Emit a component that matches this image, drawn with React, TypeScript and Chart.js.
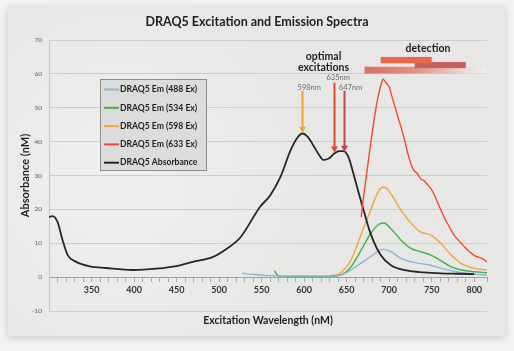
import React, { useEffect, useRef } from "react";
import { Chart, registerables } from "chart.js";

Chart.register(...registerables);

const TITLE = "DRAQ5 Excitation and Emission Spectra";
const X_TITLE = "Excitation Wavelength (nM)";
const Y_TITLE = "Absorbance (nM)";
const X_MIN = 300;
const X_MAX = 815;
const Y_MIN = -10;
const Y_MAX = 70;
const X_TICK_LABELS = [350, 400, 450, 500, 550, 600, 650, 700, 750, 800];

const SERIES_NAMES = [
  "DRAQ5 Em (488 Ex)",
  "DRAQ5 Em (534 Ex)",
  "DRAQ5 Em (598 Ex)",
  "DRAQ5 Em (633 Ex)",
  "DRAQ5 Absorbance",
];
const SERIES_COLORS = ["#8db3d8", "#3db24a", "#f4a43c", "#ef4a30", "#262626"];

const em488X = [527, 535, 545, 555, 565, 575, 590, 610, 630, 643, 655, 666, 678, 688, 694, 702, 714, 726, 737, 749, 761, 773, 785, 800, 815];
const em488Y = [1.1, 0.9, 0.7, 0.5, 0.4, 0.3, 0.3, 0.3, 0.3, 0.6, 2.1, 4.0, 6.0, 7.9, 8.2, 7.5, 5.5, 4.5, 4.0, 3.5, 2.6, 1.9, 1.3, 0.9, 0.6];

const em534X = [565, 567, 570, 580, 600, 620, 640, 648, 655, 666, 678, 688, 694, 702, 714, 726, 737, 749, 761, 773, 785, 800, 815];
const em534Y = [1.9, 1.2, 0.3, 0.2, 0.2, 0.2, 0.4, 1.3, 3.0, 7.5, 12.8, 15.6, 16.0, 14.3, 10.9, 8.4, 7.5, 6.5, 4.8, 3.0, 2.1, 1.6, 1.3];

const em598X = [630, 640, 648, 655, 666, 678, 688, 694, 702, 714, 726, 737, 749, 761, 773, 785, 800, 815];
const em598Y = [0.4, 0.8, 2.5, 5.0, 11.9, 19.7, 25.6, 26.6, 24.6, 19.7, 15.8, 13.3, 12.4, 9.9, 6.5, 4.0, 2.6, 2.1];

const em633X = [667, 670, 674, 678, 682, 686, 690, 693, 695, 698, 700, 703, 706, 710, 714, 718, 722, 726, 729, 733, 737, 741, 745, 749, 753, 757, 761, 765, 769, 773, 777, 781, 785, 789, 793, 797, 801, 805, 809, 813, 815];
const em633Y = [17.7, 24.0, 31.5, 39.0, 46.0, 52.0, 56.5, 58.4, 57.8, 56.9, 56.2, 53.5, 51.0, 47.5, 44.2, 40.5, 36.4, 33.2, 31.5, 30.6, 29.0, 28.5, 27.3, 26.1, 24.3, 22.0, 19.7, 17.5, 15.6, 13.8, 12.2, 11.0, 9.9, 8.8, 7.8, 7.0, 6.3, 5.9, 5.5, 4.9, 4.5];

const absX = [300, 304, 310, 316, 322, 332, 348, 367, 399, 426, 454, 469, 493, 509, 525, 548, 560, 572, 584, 591, 598, 604, 611, 617, 623, 629, 635, 641, 646, 652, 658, 664, 670, 678, 690, 702, 722, 740, 761, 780, 800];
const absY = [17.7, 18.0, 16.3, 10.9, 6.5, 4.5, 3.2, 2.7, 2.1, 2.5, 3.5, 4.5, 6.0, 8.4, 11.7, 20.7, 24.1, 29.5, 37.4, 40.8, 42.4, 41.5, 38.8, 36.3, 34.6, 35.0, 36.4, 37.2, 37.2, 35.5, 30.5, 25.0, 19.7, 12.9, 6.5, 3.5, 1.9, 1.4, 1.1, 1.0, 0.9];

// annotations (data units)
const ARROW_NM = [598, 635, 647];
const ARROW_TOP = [55, 57.4, 55];
const ARROW_TIP = [42.6, 36.8, 37.0];
const ARROW_LABELS = ["598nm", "635nm", "647nm"];
const ARROW_LABEL_NM = [606, 640, 654.5];
const ARROW_LABEL_Y = [55.9, 58.8, 55.9];
const ARROW_COLORS = ["#f0a233", "#e8452e", "#c8424c"];

const OPTIMAL_TEXT = ["optimal", "excitations"];
const OPTIMAL_NM = 622.8;
const OPTIMAL_Y = [65.0, 61.8];
const DETECTION_TEXT = "detection";
const DETECTION_NM = 745.6;
const DETECTION_Y = 67.6;

const DET_X0 = [671, 730, 690];
const DET_X1 = [815, 790, 750];
const DET_Y0 = [60.1, 61.7, 63.1];
const DET_Y1 = [62.1, 63.5, 65.0];

const zip = (xs: number[], ys: number[]) => xs.map((x, i) => ({ x, y: ys[i] }));

const FONT = "Lato, 'Open Sans', sans-serif";

const bgPlugin = {
  id: "bgPanel",
  beforeDraw(chart: any) {
    const { ctx, width, height } = chart;
    ctx.save();
    ctx.fillStyle = "#f3f3f2";
    ctx.fillRect(0, 0, width, height);
    ctx.shadowColor = "rgba(0,0,0,0.18)";
    ctx.shadowBlur = 8;
    ctx.shadowOffsetY = 2;
    ctx.fillStyle = "#e7e7e5";
    ctx.fillRect(8, 6, 497, 330);
    ctx.shadowColor = "transparent";
    const g = ctx.createRadialGradient(120, 180, 10, 120, 180, 200);
    g.addColorStop(0, "rgba(255,255,255,0.35)");
    g.addColorStop(1, "rgba(255,255,255,0)");
    ctx.fillStyle = g;
    ctx.fillRect(8, 6, 497, 330);
    ctx.restore();
  },
};

const annotPlugin = {
  id: "annot",
  afterDatasetsDraw(chart: any) {
    const { ctx } = chart;
    const xs = chart.scales.x;
    const ys = chart.scales.y;
    const px = (v: number) => xs.getPixelForValue(v);
    const py = (v: number) => ys.getPixelForValue(v);
    ctx.save();
    // detection bars
    const bar = (i: number, fill: any) => {
      const x0 = px(DET_X0[i]);
      const x1 = px(DET_X1[i]);
      const y0 = py(DET_Y1[i]);
      const y1 = py(DET_Y0[i]);
      ctx.fillStyle = fill;
      ctx.fillRect(x0, y0, x1 - x0, y1 - y0);
    };
    const gx0 = px(DET_X0[0]);
    const gx1 = px(DET_X1[0]);
    const grad = ctx.createLinearGradient(gx0, 0, gx1, 0);
    grad.addColorStop(0, "#d96d62");
    grad.addColorStop(0.45, "#e4968c");
    grad.addColorStop(0.8, "#ecd6d2");
    grad.addColorStop(1, "#f1eeed");
    bar(0, grad);
    bar(1, "#c85f5f");
    bar(2, "#e8694a");

    // arrows
    ARROW_NM.forEach((nm, i) => {
      const x = Math.round(px(nm)) + 0.5;
      const yt = py(ARROW_TOP[i]);
      const yb = py(ARROW_TIP[i]);
      ctx.strokeStyle = ARROW_COLORS[i];
      ctx.fillStyle = ARROW_COLORS[i];
      ctx.lineWidth = 2;
      ctx.beginPath();
      ctx.moveTo(x, yt);
      ctx.lineTo(x, yb - 4);
      ctx.stroke();
      ctx.beginPath();
      ctx.moveTo(x - 3.5, yb - 6);
      ctx.lineTo(x, yb);
      ctx.lineTo(x + 3.5, yb - 6);
      ctx.closePath();
      ctx.fill();
      ctx.font = `7.5px ${FONT}`;
      ctx.fillStyle = "#6a6a6a";
      ctx.textAlign = "center";
      ctx.textBaseline = "middle";
      ctx.fillText(ARROW_LABELS[i], px(ARROW_LABEL_NM[i]), py(ARROW_LABEL_Y[i]));
    });

    ctx.fillStyle = "#1e1e1e";
    ctx.font = `bold 10.5px ${FONT}`;
    ctx.textAlign = "center";
    ctx.textBaseline = "middle";
    OPTIMAL_TEXT.forEach((t, i) => ctx.fillText(t, px(OPTIMAL_NM), py(OPTIMAL_Y[i])));
    ctx.fillText(DETECTION_TEXT, px(DETECTION_NM), py(DETECTION_Y));
    ctx.restore();
  },
  afterDraw(chart: any) {
    const { ctx, chartArea } = chart;
    const bx = chartArea.left + 51;
    const by = chartArea.top + 39;
    const bw = 107;
    const bh = 92;
    ctx.save();
    ctx.fillStyle = "#dcdcdb";
    ctx.fillRect(bx, by, bw, bh);
    ctx.strokeStyle = "#8c8c8c";
    ctx.lineWidth = 1;
    ctx.strokeRect(bx + 0.5, by + 0.5, bw - 1, bh - 1);
    ctx.font = `bold 8.6px ${FONT}`;
    ctx.textAlign = "left";
    ctx.textBaseline = "middle";
    SERIES_NAMES.forEach((name, i) => {
      const y = by + 10.5 + i * 18.3;
      ctx.strokeStyle = SERIES_COLORS[i];
      ctx.lineWidth = 2;
      ctx.beginPath();
      ctx.moveTo(bx + 4, y);
      ctx.lineTo(bx + 19, y);
      ctx.stroke();
      ctx.fillStyle = "#1e1e1e";
      ctx.fillText(name, bx + 20, y);
    });
    ctx.restore();
  },
};

export default function App() {
  const ref = useRef<HTMLCanvasElement | null>(null);
  useEffect(() => {
    if (!ref.current) return;
    const data = [zip(em488X, em488Y), zip(em534X, em534Y), zip(em598X, em598Y), zip(em633X, em633Y), zip(absX, absY)];
    const chart = new Chart(ref.current, {
      type: "line",
      data: {
        datasets: SERIES_NAMES.map((name, i) => ({
          label: name,
          data: data[i],
          borderColor: SERIES_COLORS[i],
          backgroundColor: SERIES_COLORS[i],
          borderWidth: i === 4 ? 1.8 : 1.4,
          pointRadius: 0,
          cubicInterpolationMode: "monotone" as const,
          fill: false,
          order: i === 3 ? 0 : i === 4 ? 1 : 2,
        })),
      },
      options: {
        responsive: false,
        animation: false,
        devicePixelRatio: 1,
        layout: { padding: { left: 0, right: 0, top: 0, bottom: 0 } },
        plugins: {
          legend: { display: false },
          tooltip: { enabled: false },
          title: {
            display: true,
            text: TITLE,
            color: "#1e1e1e",
            font: { family: FONT, size: 12.5, weight: "bold" },
            padding: { top: 14.5, bottom: 10.5 },
          },
        },
        scales: {
          x: {
            type: "linear",
            min: X_MIN,
            max: X_MAX,
            position: { y: 0 } as any,
            grid: { drawOnChartArea: false, drawTicks: true, tickLength: 4, color: "#a8a8a8" },
            border: { display: true, color: "#a0a0a0", width: 1 },
            ticks: {
              stepSize: 10,
              autoSkip: false,
              maxRotation: 0,
              padding: 4,
              color: "#333",
              font: { family: FONT, size: 9, weight: "bold" },
              callback: (v: any) => (X_TICK_LABELS.includes(Number(v)) ? String(v) : ""),
            },
          },
          x2: {
            type: "linear",
            position: "bottom",
            min: X_MIN,
            max: X_MAX,
            grid: { display: false, drawTicks: false },
            border: { display: false },
            ticks: { display: false },
            title: {
              display: true,
              text: X_TITLE,
              color: "#1e1e1e",
              font: { family: FONT, size: 10.5, weight: "bold" },
              padding: { top: 0, bottom: 24 },
            },
            afterFit: (s: any) => {
              s.height = 40;
            },
          },
          y: {
            type: "linear",
            min: Y_MIN,
            max: Y_MAX,
            grid: { color: "#cdcdcb", drawTicks: false },
            border: { display: true, color: "#c4c4c2" },
            ticks: {
              stepSize: 10,
              padding: 7,
              color: "#5a5a5a",
              font: { family: FONT, size: 6.5 },
            },
            title: {
              display: true,
              text: Y_TITLE,
              color: "#1e1e1e",
              font: { family: FONT, size: 11, weight: "bold" },
              padding: { top: 18.4, bottom: 0 },
            },
            afterFit: (s: any) => {
              s.width = 49;
            },
          },
          y2: {
            type: "linear",
            position: "right",
            min: Y_MIN,
            max: Y_MAX,
            grid: { display: false, drawTicks: false },
            border: { display: false },
            ticks: { display: false },
            afterFit: (s: any) => {
              s.width = 27;
            },
          },
        },
      } as any,
      plugins: [bgPlugin, annotPlugin],
    });
    return () => chart.destroy();
  }, []);
  return (
    <div style={{ position: "fixed", left: 0, top: 0, width: 514, height: 351 }}>
      <canvas ref={ref} width={514} height={351} style={{ display: "block" }} />
    </div>
  );
}
